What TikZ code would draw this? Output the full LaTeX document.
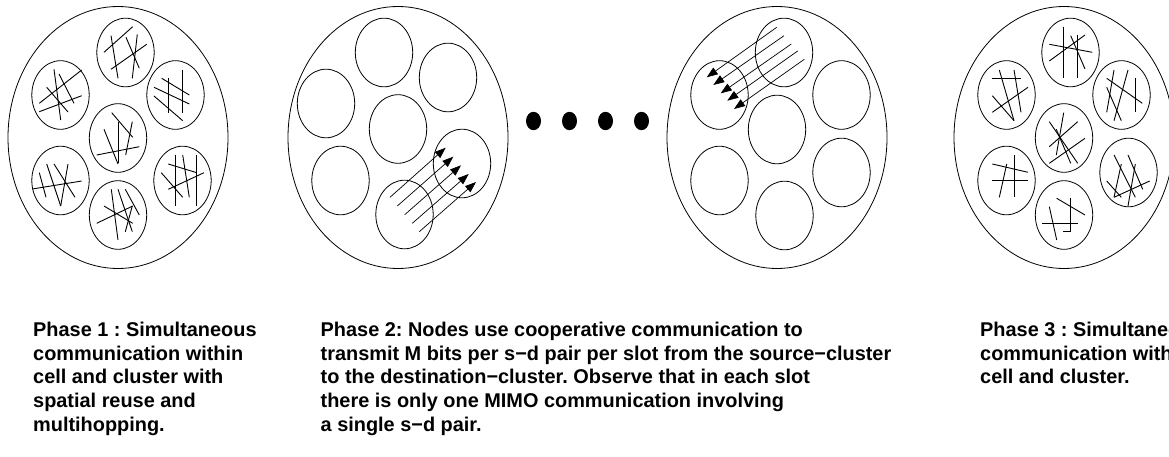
\documentclass[tikz,border=0pt]{standalone}
\usepackage{fontspec}
\setmainfont{Liberation Sans}
\usetikzlibrary{arrows.meta}
\frenchspacing
\newcommand\clusterat[2]{\draw[cluster] (#1,#2) ellipse [x radius=28.7pt,y radius=34.3pt];}
\newcommand\cellat[2]{\draw[cellring] (#1,#2) ellipse [x radius=110pt,y radius=131pt];}
\begin{document}
\begin{tikzpicture}[x=1pt,y=-1pt,
  cellring/.style={line width=0.8pt},
  cluster/.style={line width=0.8pt},
  hatch/.style={line width=0.9pt},
  flow/.style={line width=0.7pt,-{Triangle[length=11pt,width=8pt]}},
  dotmark/.style={fill=black},
  caption/.style={anchor=base west,inner sep=0pt,font=\bfseries\fontsize{19.9pt}{23.7pt}\selectfont}]
\useasboundingbox (0,0) rectangle (1169,457);
\clip (0,0) rectangle (1169,457);

% ---------------- Cell 1 (Phase 1) ----------------
\cellat{118}{137.5}
\clusterat{125.5}{52.5}
\clusterat{60.5}{95}
\clusterat{175.5}{95}
\clusterat{118}{138}
\clusterat{60.5}{180.5}
\clusterat{182.5}{180.5}
\clusterat{118}{215}
\begin{scope}[hatch]
% top
\draw (104,52.3)--(132.7,26.7);
\draw (111,69.3)--(146.7,44.3);
\draw (111,35.7)--(118,78.3);
\draw (137.3,34.3)--(132.3,78.3);
\draw (126,37.3)--(139.3,68.3);
% upper-left
\draw (39.3,103.3)--(81.7,70);
\draw (39.3,111.7)--(81.7,95.7);
\draw (54,69.3)--(60.7,120);
\draw (46.7,87.3)--(68,112);
\draw (59,74)--(74,103.3);
% upper-right
\draw (161.7,78.3)--(189.3,95);
\draw (154,87.3)--(189.3,104);
\draw (154,96)--(182.7,120.7);
\draw (168.3,78.3)--(168.3,112.7);
\draw (182.7,70)--(182.7,112.7);
% center
\draw (111.7,112.7)--(132.7,137.3);
\draw (104,129.3)--(118,164);
\draw (118,121.7)--(118,163.3);
\draw (132.3,121.7)--(125.7,155);
\draw (96.7,155)--(139.3,146.7);
% lower-left
\draw (39.3,172.7)--(46,197.3);
\draw (46.7,164)--(60.7,206);
\draw (54,164)--(75,197.3);
\draw (68,164)--(60.7,206);
\draw (32.3,189)--(81.7,181);
% lower-right
\draw (168.3,164)--(196.7,172.7);
\draw (168.3,189.3)--(204,172.7);
\draw (161.3,172.7)--(182.7,197.3);
\draw (175.3,155)--(175.3,206);
\draw (182.7,155)--(189.3,197.3);
\draw (196.7,155)--(196.7,206);
% bottom
\draw (96.7,223.3)--(132.7,206);
\draw (104,206)--(132.7,223.3);
\draw (111.3,189.3)--(118,240);
\draw (118,189.3)--(132.3,231.7);
\draw (125.3,189.3)--(139.3,215);
\draw (132.3,206)--(125.3,231.7);
\end{scope}

% ---------------- Cell 2 (Phase 2, first slot) ----------------
\cellat{398}{137.5}
\clusterat{384}{52.5}
\clusterat{326}{103.5}
\clusterat{448}{77.5}
\clusterat{398}{129}
\clusterat{340.5}{180.5}
\clusterat{462}{163.5}
\clusterat{404.5}{214.5}
\coordinate (sa1) at (390,197.3);   \coordinate (da1) at (445.7,147.7);
\coordinate (sa2) at (397.3,206);   \coordinate (da2) at (453.3,156.7);
\coordinate (sa3) at (404.7,214.7); \coordinate (da3) at (461,165.3);
\coordinate (sa4) at (412.3,223.3); \coordinate (da4) at (468.7,174);
\coordinate (sa5) at (419.3,231.7); \coordinate (da5) at (476,182);
\foreach \i in {1,...,5} \draw[flow] (sa\i) -- (da\i);

% ---------------- dots ----------------
\foreach \x in {533.5,569.5,605.5,641.5}
  \fill[dotmark] (\x,121) ellipse [x radius=7.5pt,y radius=9.2pt];

% ---------------- Cell 3 (Phase 2, last slot) ----------------
\cellat{777}{137.5}
\clusterat{784}{52.5}
\clusterat{719.5}{95}
\clusterat{841.5}{95}
\clusterat{777}{129.5}
\clusterat{719.5}{180.5}
\clusterat{841.5}{172.5}
\clusterat{784.5}{215.5}
\coordinate (sb1) at (776.7,27.3); \coordinate (db1) at (706.7,77.3);
\coordinate (sb2) at (784,35.7);   \coordinate (db2) at (713.3,85);
\coordinate (sb3) at (791.3,44);   \coordinate (db3) at (720.7,93.3);
\coordinate (sb4) at (797.7,51);   \coordinate (db4) at (727.3,100.7);
\coordinate (sb5) at (804.3,59.3); \coordinate (db5) at (734,109);
\foreach \i in {1,...,5} \draw[flow] (sb\i) -- (db\i);

% ---------------- Cell 4 (Phase 3) ----------------
\cellat{1064}{137.5}
\clusterat{1070.5}{52.5}
\clusterat{1006.5}{95}
\clusterat{1121.5}{95}
\clusterat{1064}{138}
\clusterat{1006.5}{180.5}
\clusterat{1128.5}{172.5}
\clusterat{1064}{215}
\begin{scope}[hatch]
% top
\draw (1049.3,61)--(1085,35);
\draw (1049.3,44.3)--(1092.3,52.3);
\draw (1063.3,26.7)--(1063.3,78.3);
\draw (1077.7,35)--(1077.7,78.3);
\draw (1070.7,35.7)--(1085,69);
% upper-left
\draw (992.3,78.3)--(1021,78.3);
\draw (992.3,95.7)--(1014,120.7);
\draw (992.3,112.3)--(1028,87.3);
\draw (999.3,70)--(1014,120.7);
\draw (1014,70)--(1021,112.3);
% upper-right
\draw (1106.7,78.3)--(1142.3,103.3);
\draw (1114,70)--(1106.7,112.3);
\draw (1128,70)--(1114,120.7);
\draw (1106.7,87.3)--(1121.3,120.7);
\draw (1135.3,78.3)--(1135.3,112.3);
% center
\draw (1049.3,146.7)--(1077.7,121.7);
\draw (1049.3,163.3)--(1085,138.3);
\draw (1056.3,155)--(1063.7,112.7);
\draw (1049.3,121.7)--(1077.7,163.3);
\draw (1056.3,129.3)--(1070.7,163.3);
% lower-left
\draw (992.3,164)--(1028,172.3);
\draw (992.3,180.3)--(1028,180.3);
\draw (1006.7,164)--(999.3,197.3);
\draw (1014,155)--(1014,197.3);
% lower-right
\draw (1106.7,181)--(1121.3,197.3);
\draw (1114,197.3)--(1149.7,181);
\draw (1114,155)--(1135.3,197.3);
\draw (1128,155)--(1142.7,189.3);
\draw (1135.3,164)--(1128,206);
\draw (1121.3,164)--(1114,197.3);
% bottom
\draw (1056.7,198.3)--(1085,215);
\draw (1042.3,223.3)--(1077.7,223.3);
\draw (1049.3,206.7)--(1056.7,240);
\draw (1070.7,198.3)--(1070.7,231.7)--(1063.3,231.7);
\end{scope}

% ---------------- captions ----------------
\node[caption] (p1a) at (33,336.5)   {Phase 1 : Simultaneous};
\node[caption] (p1b) at (33,360.2)   {communication within};
\node[caption] (p1c) at (33,383.9)   {cell and cluster with};
\node[caption] (p1d) at (33,407.6)   {spatial reuse and};
\node[caption] (p1e) at (33,431.3)   {multihopping.};

\node[caption] (p2a) at (320.5,336.5) {Phase 2: Nodes use cooperative communication to};
\node[caption] (p2b) at (320.5,360.2) {transmit M bits per s−d pair per slot from the source−cluster};
\node[caption] (p2c) at (320.5,383.9) {to the destination−cluster. Observe that in each slot};
\node[caption] (p2d) at (320.5,407.6) {there is only one MIMO communication involving};
\node[caption] (p2e) at (320.5,431.3) {a single s−d pair.};

\node[caption] (p3a) at (980,336.5)  {Phase 3 : Simultaneous};
\node[caption] (p3b) at (980,360.2)  {communication within};
\node[caption] (p3c) at (980,383.9)  {cell and cluster.};
\end{tikzpicture}
\end{document}
